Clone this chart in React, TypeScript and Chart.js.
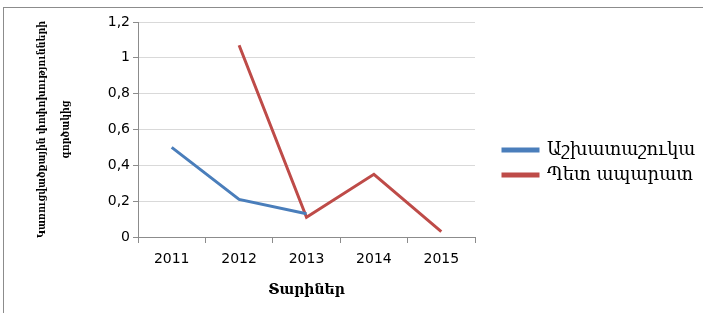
import React, { useEffect, useRef } from "react";
import { Chart, registerables, layouts } from "chart.js";

Chart.register(...registerables);

const years = ["2011", "2012", "2013", "2014", "2015"];
const laborMarket = [0.5, 0.21, 0.13, null, null];
const stateServants = [null, 1.07, 0.11, 0.35, 0.03];
const seriesNames = ["Աշխատաշուկա", "Պետ ապարատ"];
const yTitle = ["Կառուցվածքային փոփոխությունների", "գործակից"];
const xTitle = "Տարիներ";

const legendSpacer = {
  id: "legendSpacer",
  beforeInit(chart: any) {
    const box: any = {
      position: "right",
      weight: 500,
      fullSize: false,
      options: {},
      left: 0,
      top: 0,
      right: 0,
      bottom: 0,
      width: 0,
      height: 0,
      isHorizontal() {
        return false;
      },
      update(_maxW: number, maxH: number) {
        this.width = 21;
        this.height = maxH;
      },
      getPadding() {
        return { left: 0, right: 0, top: 0, bottom: 0 };
      },
      draw() {},
    };
    layouts.addBox(chart, box);
  },
};

export default function App() {
  const ref = useRef<HTMLCanvasElement>(null);
  useEffect(() => {
    const ctx = ref.current!;
    const chart = new Chart(ctx, {
      type: "line",
      data: {
        labels: years,
        datasets: [
          {
            label: seriesNames[0],
            data: laborMarket,
            borderColor: "#4a7ebb",
            backgroundColor: "#4a7ebb",
            borderWidth: 3,
            pointRadius: 0,
            tension: 0,
            spanGaps: false,
          },
          {
            label: seriesNames[1],
            data: stateServants,
            borderColor: "#be4b48",
            backgroundColor: "#be4b48",
            borderWidth: 3,
            pointRadius: 0,
            tension: 0,
            spanGaps: false,
          },
        ],
      },
      plugins: [legendSpacer],
      options: {
        responsive: false,
        animation: false,
        layout: { padding: { left: 0, top: 22, right: 7, bottom: 10 } },
        plugins: {
          tooltip: { enabled: false },
          legend: {
            position: "right",
            maxWidth: 200,
            labels: {
              boxWidth: 35,
              boxHeight: 2,
              padding: 7,
              color: "#000",
              font: { family: "DejaVu Serif", size: 18 },
            },
          },
        },
        scales: {
          x: {
            offset: true,
            afterFit: (s: any) => {
              s.height = 66;
            },
            grid: {
              offset: true,
              drawOnChartArea: false,
              color: "#8c8c8c",
              tickLength: 6,
            },
            border: { color: "#8c8c8c" },
            ticks: {
              color: "#000",
              padding: 8,
              font: { family: "DejaVu Sans", size: 14 },
            },
            title: {
              display: true,
              text: xTitle,
              color: "#000",
              padding: { top: 8, bottom: 4 },
              font: { family: "DejaVu Serif", size: 14, weight: "bold" },
            },
          },
          y: {
            min: 0,
            max: 1.2,
            afterFit: (s: any) => {
              s.width = 138;
            },
            ticks: {
              stepSize: 0.2,
              color: "#000",
              padding: 3,
              font: { family: "DejaVu Sans", size: 14 },
              callback: (v: any) =>
                String(Math.round(Number(v) * 10) / 10).replace(".", ","),
            },
            grid: { color: "#d9d9d9", tickLength: 5, tickColor: "#8c8c8c" },
            border: { color: "#8c8c8c" },
            title: {
              display: true,
              text: yTitle,
              color: "#000",
              padding: { top: 30, bottom: 0 },
              font: {
                family: "'DejaVu Serif Condensed', 'DejaVu Serif'",
                size: 10.5,
                weight: "bold",
                lineHeight: 2.3,
              },
            },
          },
        },
      },
    });
    return () => chart.destroy();
  }, []);
  return (
    <div style={{ position: "absolute", left: 0, top: 0, width: 703, height: 313, background: "#fff" }}>
      <div
        style={{
          position: "absolute",
          left: 3,
          top: 7,
          width: 700,
          height: 306,
          borderTop: "1px solid #8c8c8c",
          borderLeft: "1px solid #8c8c8c",
        }}
      />
      <canvas ref={ref} width={703} height={313} style={{ position: "absolute", left: 0, top: 0 }} />
    </div>
  );
}
